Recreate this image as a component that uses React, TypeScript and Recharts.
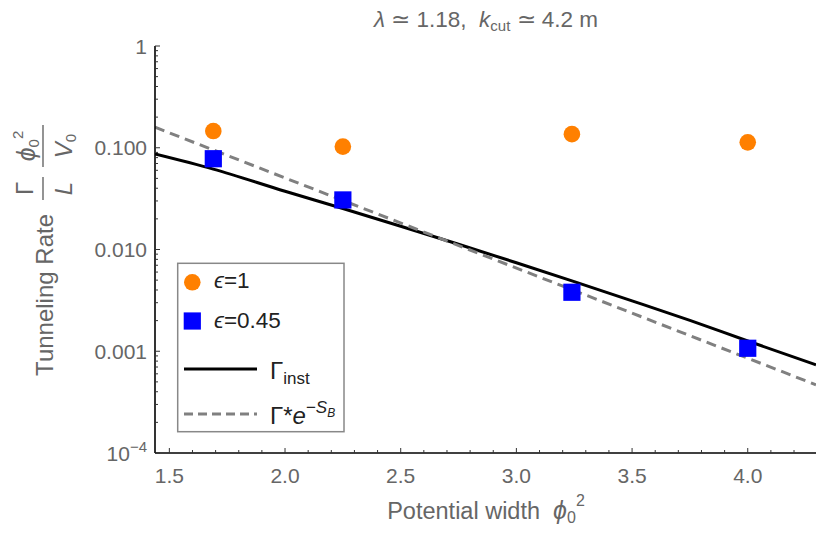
import React from "react";
import { ComposedChart, Line, Scatter, XAxis, YAxis } from "recharts";

// Points (x = potential width phi0^2, y = tunneling rate)
const sampleWidth = [1.69, 2.25, 3.24, 4.0];
const rateEps1 = [0.146, 0.1026, 0.136, 0.113];
const rateEps045 = [0.078, 0.0307, 0.0038, 0.00107];

// Gamma_inst curve, sampled along the plotted line
const instWidth = [1.438, 1.69, 2.0, 2.25, 2.5, 2.75, 3.0, 3.25, 3.5, 3.75, 4.0, 4.295];
const instRate = [0.0869, 0.0617, 0.0374, 0.0253, 0.01694, 0.01127, 0.00741, 0.00484, 0.00313, 0.00201, 0.00126, 0.000735];

// Gamma* e^{-S_B} (straight on the log axis)
const bounceWidth = [1.438, 4.295];
const bounceRate = [0.159, 0.000468];

const xMajorTicks = [1.5, 2.0, 2.5, 3.0, 3.5, 4.0];
const xAllTicks = [
	1.5, 1.6, 1.7, 1.8, 1.9, 2.0, 2.1, 2.2, 2.3, 2.4, 2.5, 2.6, 2.7, 2.8, 2.9, 3.0, 3.1, 3.2, 3.3, 3.4,
	3.5, 3.6, 3.7, 3.8, 3.9, 4.0, 4.1, 4.2,
];
const yMajorTicks = [0.0001, 0.001, 0.01, 0.1, 1];
const yMajorLabels = ["10^-4", "0.001", "0.010", "0.100", "1"];

const yAllTicks: number[] = [];
for (let d = -4; d < 0; d++) {
	for (let m = 1; m < 10; m++) yAllTicks.push(Number((m * Math.pow(10, d)).toPrecision(3)));
}
yAllTicks.push(1);

const X_DOMAIN: [number, number] = [1.438, 4.295];
const Y_DOMAIN: [number, number] = [0.0001, 1];

const orange = "#ff8000";
const blue = "#0000ff";
const dashGray = "#808080";
const textGray = "#666666";
const tickColor = "#333333";
const font = "'Liberation Sans', Arial, sans-serif";

const toPoints = (xs: number[], ys: number[]) => xs.map((w, i) => ({ width: w, rate: ys[i] }));

const eps1Data = toPoints(sampleWidth, rateEps1);
const eps045Data = toPoints(sampleWidth, rateEps045);
const instData = toPoints(instWidth, instRate);
const bounceData = toPoints(bounceWidth, bounceRate);

const isMajorX = (v: number) => xMajorTicks.some((t) => Math.abs(t - v) < 1e-9);
const majorYIndex = (v: number) => yMajorTicks.findIndex((t) => Math.abs(t - v) / t < 1e-6);

function BottomTick({ x, y, payload }: any) {
	const major = isMajorX(payload.value);
	return (
		<g>
			<line x1={x} x2={x} y1={y} y2={y - (major ? 5 : 3)} stroke={tickColor} strokeWidth={1} />
			{major && (
				<text x={x} y={y + 30} textAnchor="middle" fontSize={21} fill={textGray} fontFamily={font}>
					{payload.value.toFixed(1)}
				</text>
			)}
		</g>
	);
}

function TopTick({ x, y, payload }: any) {
	const major = isMajorX(payload.value);
	return <line x1={x} x2={x} y1={y} y2={y + (major ? 5 : 3)} stroke={tickColor} strokeWidth={1} />;
}

function LeftTick({ x, y, payload }: any) {
	const idx = majorYIndex(payload.value);
	const major = idx >= 0;
	const label = major ? yMajorLabels[idx] : "";
	return (
		<g>
			<line x1={x} x2={x + (major ? 5 : 3)} y1={y} y2={y} stroke={tickColor} strokeWidth={1} />
			{major && (
				<text x={x - 8} y={y} dy="0.36em" textAnchor="end" fontSize={21} fill={textGray} fontFamily={font}>
					{label.startsWith("10^") ? (
						<>
							<tspan>10</tspan>
							<tspan dy={-9} fontSize={15}>
								−4
							</tspan>
						</>
					) : (
						label
					)}
				</text>
			)}
		</g>
	);
}

function RightTick({ x, y, payload }: any) {
	const major = majorYIndex(payload.value) >= 0;
	return <line x1={x} x2={x - (major ? 5 : 3)} y1={y} y2={y} stroke={tickColor} strokeWidth={1} />;
}

const OrangeDot = (props: any) => <circle cx={props.cx} cy={props.cy} r={8.3} fill={orange} />;
const BlueSquare = (props: any) => (
	<rect x={props.cx - 8.6} y={props.cy - 8.6} width={17.2} height={17.2} fill={blue} />
);

function Overlay() {
	return (
		<svg
			width={822}
			height={519}
			style={{ position: "absolute", left: 0, top: 0, pointerEvents: "none", overflow: "visible" }}
			fontFamily={font}
		>
			{/* title */}
			<text x={478} y={19} textAnchor="middle" fontSize={22.5} fill={textGray}>
				<tspan fontStyle="italic">λ</tspan>
				<tspan> ≃ 1.18,{"\u00a0\u00a0"}</tspan>
				<tspan fontStyle="italic">k</tspan>
				<tspan fontSize={15} dy={4}>
					cut
				</tspan>
				<tspan dy={-4}> ≃ 4.2 m</tspan>
			</text>

			{/* x axis title */}
			<text x={478} y={511} textAnchor="middle" fontSize={23.5} fill={textGray}>
				<tspan>Potential width{"\u00a0\u00a0"}</tspan>
				<tspan fontStyle="italic" fontSize={25}>
					ϕ
				</tspan>
				<tspan fontSize={16} dy={4}>
					0
				</tspan>
				<tspan fontSize={16} dy={-17}>
					2
				</tspan>
			</text>

			{/* y axis title */}
			<g transform="translate(35,242) rotate(-90)" fill={textGray}>
				<text x={36} y={10} textAnchor="end" fontSize={24}>
					Tunneling Rate
				</text>
				<text x={61.5} y={-10} textAnchor="middle" fontSize={24}>
					Γ
				</text>
				<line x1={50} x2={73} y1={0} y2={0} stroke={textGray} strokeWidth={1.4} />
				<text x={61.5} y={29} textAnchor="middle" fontSize={24} fontStyle="italic">
					L
				</text>
				<text x={104} y={-8} textAnchor="middle" fontSize={24}>
					<tspan fontStyle="italic" fontSize={25}>
						ϕ
					</tspan>
					<tspan fontSize={15} dy={4}>
						0
					</tspan>
					<tspan fontSize={15} dy={-16}>
						2
					</tspan>
				</text>
				<line x1={83} x2={125} y1={0} y2={0} stroke={textGray} strokeWidth={1.4} />
				<text x={104} y={29} textAnchor="middle" fontSize={24}>
					<tspan fontStyle="italic">V</tspan>
					<tspan fontSize={15} dy={4}>
						0
					</tspan>
				</text>
			</g>

			{/* legend */}
			<g>
				<rect x={169.7} y={255.3} width={166.3} height={168.4} fill="#ffffff" stroke="#888888" strokeWidth={1.5} />
				<circle cx={184.3} cy={274.3} r={8.3} fill={orange} />
				<text x={206} y={280.3} fontSize={22.5} fill="#222222">
					<tspan fontStyle="italic">ϵ</tspan>=1
				</text>
				<rect x={175.7} y={304.4} width={17.2} height={17.2} fill={blue} />
				<text x={206} y={320.3} fontSize={22.5} fill="#222222">
					<tspan fontStyle="italic">ϵ</tspan>=0.45
				</text>
				<line x1={176} x2={249} y1={361} y2={361} stroke="#000000" strokeWidth={3} />
				<text x={262} y={371} fontSize={24} fill="#222222">
					<tspan>Γ</tspan>
					<tspan fontSize={17} dy={5}>
						inst
					</tspan>
				</text>
				<line x1={176} x2={249} y1={406} y2={406} stroke={dashGray} strokeWidth={3} strokeDasharray="9 5" />
				<text x={262} y={416} fontSize={24} fill="#222222">
					<tspan>Γ*</tspan>
					<tspan fontStyle="italic">e</tspan>
					<tspan fontSize={17} dy={-11}>
						−
					</tspan>
					<tspan fontSize={17} fontStyle="italic">
						S
					</tspan>
					<tspan fontSize={12} dy={4} fontStyle="italic">
						B
					</tspan>
				</text>
			</g>
		</svg>
	);
}

export default function App() {
	return (
		<div style={{ position: "relative", width: 822, height: 519, background: "#ffffff" }}>
			<ComposedChart width={822} height={519} margin={{ top: 38, right: 14, bottom: 44, left: 0 }}>
				<XAxis
					xAxisId="x"
					dataKey="width"
					type="number"
					domain={X_DOMAIN}
					allowDataOverflow
					ticks={xAllTicks}
					interval={0}
					tick={<BottomTick />}
					tickSize={0}
					tickMargin={0}
					tickLine={false}
					height={30}
					axisLine={{ stroke: "#000000", strokeWidth: 1.6 }}
				/>
				<XAxis
					xAxisId="top"
					orientation="top"
					type="number"
					domain={X_DOMAIN}
					allowDataOverflow
					ticks={xAllTicks}
					interval={0}
					tick={<TopTick />}
					tickSize={0}
					tickMargin={0}
					tickLine={false}
					height={0}
					axisLine={{ stroke: "#000000", strokeWidth: 1.6 }}
				/>
				<YAxis
					yAxisId="y"
					dataKey="rate"
					type="number"
					scale="log"
					domain={Y_DOMAIN}
					allowDataOverflow
					ticks={yAllTicks}
					interval={0}
					tick={<LeftTick />}
					tickSize={0}
					tickMargin={0}
					tickLine={false}
					width={147}
					axisLine={{ stroke: "#000000", strokeWidth: 1.6 }}
				/>
				<YAxis
					yAxisId="right"
					orientation="right"
					type="number"
					scale="log"
					domain={Y_DOMAIN}
					allowDataOverflow
					ticks={yAllTicks}
					interval={0}
					tick={<RightTick />}
					tickSize={0}
					tickMargin={0}
					tickLine={false}
					width={0}
					axisLine={{ stroke: "#000000", strokeWidth: 1.6 }}
				/>
				<Line
					xAxisId="x"
					yAxisId="y"
					data={instData}
					dataKey="rate"
					type="monotone"
					stroke="#000000"
					strokeWidth={3}
					dot={false}
					isAnimationActive={false}
				/>
				<Line
					xAxisId="x"
					yAxisId="y"
					data={bounceData}
					dataKey="rate"
					type="linear"
					stroke={dashGray}
					strokeWidth={3}
					strokeDasharray="10 6"
					dot={false}
					isAnimationActive={false}
				/>
				<Scatter
					xAxisId="x"
					yAxisId="y"
					data={eps1Data}
					dataKey="rate"
					shape={OrangeDot}
					isAnimationActive={false}
				/>
				<Scatter
					xAxisId="x"
					yAxisId="y"
					data={eps045Data}
					dataKey="rate"
					shape={BlueSquare}
					isAnimationActive={false}
				/>
			</ComposedChart>
			<Overlay />
		</div>
	);
}
